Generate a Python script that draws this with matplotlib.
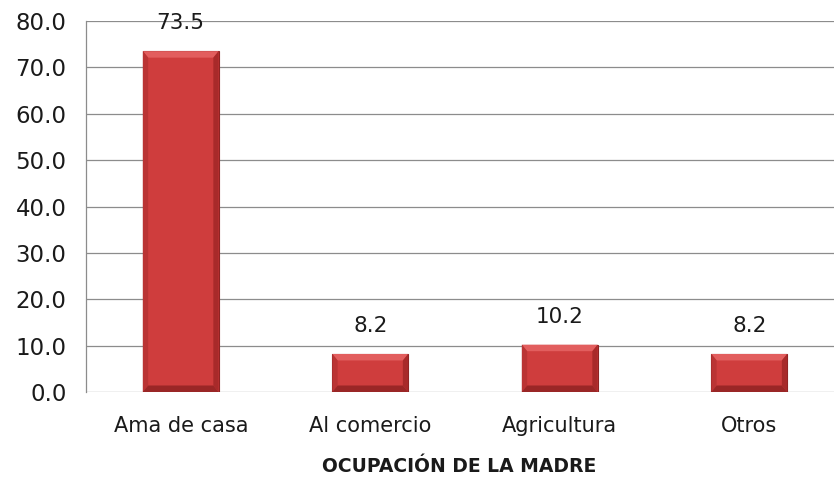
import matplotlib
matplotlib.use("Agg")
import matplotlib.pyplot as plt
from matplotlib.patches import Polygon

categories = ["Ama de casa", "Al comercio", "Agricultura", "Otros"]
values = [73.5, 8.2, 10.2, 8.2]
yticks = [0, 10, 20, 30, 40, 50, 60, 70, 80]
xlabel = "OCUPACIÓN DE LA MADRE"

plt.rcParams['font.family'] = ['DejaVu Sans']

fig = plt.figure(figsize=(8.34, 4.78), dpi=100)
ax = fig.add_axes([86/834, 1-392/478, 1-86/834, (392-21)/478])

x = list(range(len(categories)))
w = 0.40
bars = ax.bar(x, values, width=w, color="#CF3D3D", edgecolor="#8E2323", linewidth=0.8, zorder=3)

# bevel effect
for b in bars:
    x0, y0 = b.get_x(), b.get_y()
    bw, bh = b.get_width(), b.get_height()
    dx = bw * 0.07
    dy = min(1.4, bh * 0.2)
    top = Polygon([(x0, y0 + bh), (x0 + bw, y0 + bh), (x0 + bw - dx, y0 + bh - dy), (x0 + dx, y0 + bh - dy)],
                  closed=True, facecolor="#E25E5E", edgecolor="none", zorder=4)
    left = Polygon([(x0, y0), (x0, y0 + bh), (x0 + dx, y0 + bh - dy), (x0 + dx, y0 + dy)],
                   closed=True, facecolor="#BA3434", edgecolor="none", zorder=4)
    right = Polygon([(x0 + bw, y0), (x0 + bw, y0 + bh), (x0 + bw - dx, y0 + bh - dy), (x0 + bw - dx, y0 + dy)],
                    closed=True, facecolor="#A82A2A", edgecolor="none", zorder=4)
    bottom = Polygon([(x0, y0), (x0 + bw, y0), (x0 + bw - dx, y0 + dy), (x0 + dx, y0 + dy)],
                     closed=True, facecolor="#9A2626", edgecolor="none", zorder=4)
    for p in (top, left, right, bottom):
        ax.add_patch(p)

for xi, v in zip(x, values):
    ax.annotate(f"{v:.1f}", (xi, v), xytext=(0, 13), textcoords="offset points",
                ha="center", va="bottom", fontsize=15.5, color="#1a1a1a",
                annotation_clip=False)

ax.set_xlim(-0.5, (834 - 86) / 189.5 - 0.5)
ax.set_ylim(0, 80)
ax.set_yticks(yticks)
ax.set_yticklabels([f"{t:.1f}" for t in yticks], fontsize=16.5, color="#1a1a1a")
ax.set_xticks(x)
ax.set_xticklabels(categories, fontsize=15, color="#1a1a1a")
ax.tick_params(axis="both", length=0)
ax.tick_params(axis="x", pad=17)
ax.tick_params(axis="y", pad=14)
ax.yaxis.grid(True, color="#8c8c8c", linewidth=0.9, zorder=0)
ax.set_axisbelow(True)
for s in ("top", "right", "bottom"):
    ax.spines[s].set_visible(False)
ax.spines["left"].set_color("#8c8c8c")
ax.spines["left"].set_linewidth(0.9)

fig.text(459/834, 1 - 466/478, xlabel, ha="center", va="center",
         fontsize=13.5, fontweight="bold", color="#1a1a1a")

fig.savefig("out.png", dpi=100)
